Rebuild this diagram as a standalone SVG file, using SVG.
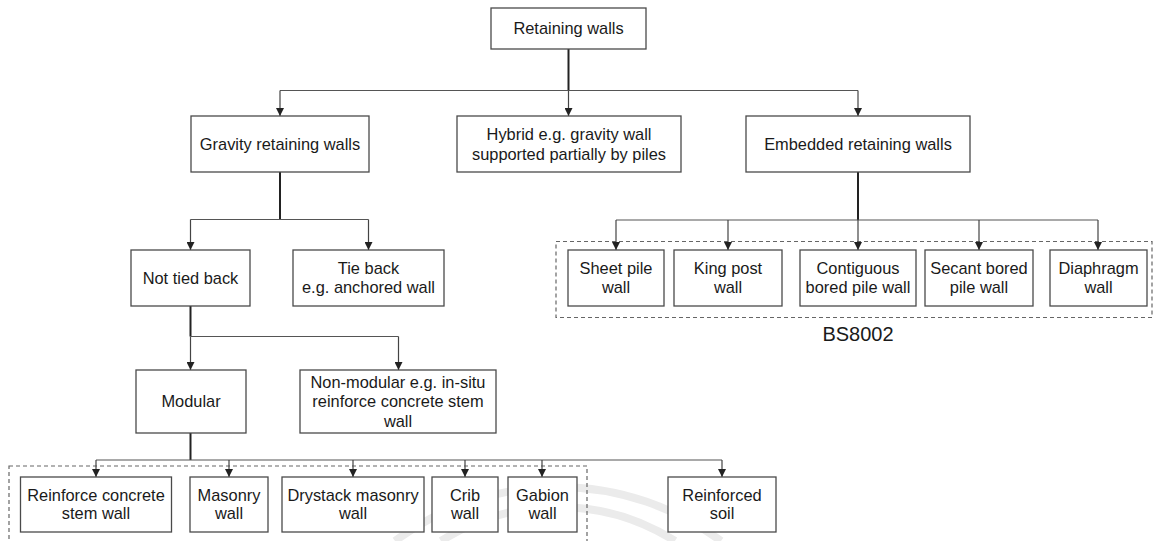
<svg xmlns="http://www.w3.org/2000/svg" width="1163" height="541" viewBox="0 0 1163 541">
<defs>
<marker id="arr" viewBox="0 0 10 10" refX="10" refY="5" markerWidth="8" markerHeight="8" markerUnits="userSpaceOnUse" orient="auto">
<path d="M0,0 L10,5 L0,10 z" fill="#222"/>
</marker>
<style>
.box{fill:#fff;stroke:#4a4a4a;stroke-width:1.3}
.grp{fill:none;stroke:#666;stroke-width:1.2;stroke-dasharray:4 3}
.t{font-family:"Liberation Sans",Arial,sans-serif;font-size:16.4px;fill:#1a1a1a;text-anchor:middle}
.big{font-size:20px}
.trunk{fill:none;stroke:#222;stroke-width:2}
.hl{fill:none;stroke:#555;stroke-width:1.2}
.br{fill:none;stroke:#444;stroke-width:1.2;marker-end:url(#arr)}
.wm{fill:none;stroke:#ebebeb;stroke-width:8}
</style>
</defs>
<rect width="1163" height="541" fill="#fff"/>
<g id="watermark">
<path class="wm" d="M395 541 A273 273 0 0 1 721 541"/>
<path class="wm" d="M441 541 A218 218 0 0 1 675 541"/>
</g>
<g id="groups">
<rect class="grp" x="556" y="241.5" width="596" height="76"/>
<rect class="grp" x="9" y="466" width="578" height="85"/>
<text class="t big" x="858" y="341">BS8002</text>
</g>
<g id="connectors">
<path class="trunk" d="M568.5 49 V90.5"/>
<path class="hl" d="M280 90.5 H858"/>
<path class="br" d="M280 90.5 V116"/>
<path class="br" d="M568.5 90.5 V116"/>
<path class="br" d="M858 90.5 V116"/>
<path class="trunk" d="M280 172 V219.5"/>
<path class="hl" d="M190.5 219.5 H368.5"/>
<path class="br" d="M190.5 219.5 V250"/>
<path class="br" d="M368.5 219.5 V250"/>
<path class="trunk" d="M190.5 306 V336.5"/>
<path class="hl" d="M190.5 336.5 H398.5"/>
<path class="br" d="M190.5 336.5 V370"/>
<path class="br" d="M398.5 336.5 V370"/>
<path class="trunk" d="M190.5 433 V460"/>
<path class="hl" d="M96 460 H722"/>
<path class="br" d="M96 460 V477"/>
<path class="br" d="M229 460 V477"/>
<path class="br" d="M353 460 V477"/>
<path class="br" d="M465 460 V477"/>
<path class="br" d="M542 460 V477"/>
<path class="br" d="M722 460 V477"/>
<path class="trunk" d="M858 172 V220"/>
<path class="hl" d="M616 220 H1098"/>
<path class="br" d="M616 220 V250"/>
<path class="br" d="M728 220 V250"/>
<path class="br" d="M858 220 V250"/>
<path class="br" d="M979 220 V250"/>
<path class="br" d="M1098 220 V250"/>
</g>
<g id="n-root"><rect class="box" x="491" y="8" width="155" height="41"/><text class="t" x="568.5" y="34.3">Retaining walls</text></g>
<g id="n-gravity"><rect class="box" x="191" y="116" width="178" height="56"/><text class="t" x="280" y="149.8">Gravity retaining walls</text></g>
<g id="n-hybrid"><rect class="box" x="457" y="116" width="224" height="56"/><text class="t" x="569" y="139.5">Hybrid e.g. gravity wall</text><text class="t" x="569" y="159.5">supported partially by piles</text></g>
<g id="n-embedded"><rect class="box" x="746" y="116" width="224" height="56"/><text class="t" x="858" y="149.8">Embedded retaining walls</text></g>
<g id="n-nottied"><rect class="box" x="131" y="250" width="119" height="56"/><text class="t" x="190.5" y="283.8">Not tied back</text></g>
<g id="n-tieback"><rect class="box" x="293" y="250" width="151" height="56"/><text class="t" x="368.5" y="273.5">Tie back</text><text class="t" x="368.5" y="293.3">e.g. anchored wall</text></g>
<g id="n-modular"><rect class="box" x="136" y="370" width="110" height="63"/><text class="t" x="191" y="407.3">Modular</text></g>
<g id="n-nonmodular"><rect class="box" x="300" y="370" width="196" height="63"/><text class="t" x="398" y="387.5">Non-modular e.g. in-situ</text><text class="t" x="398" y="407">reinforce concrete stem</text><text class="t" x="398" y="426.5">wall</text></g>
<g id="n-sheet"><rect class="box" x="568" y="250" width="96" height="56"/><text class="t" x="616" y="273.5">Sheet pile</text><text class="t" x="616" y="293.3">wall</text></g>
<g id="n-king"><rect class="box" x="674" y="250" width="108" height="56"/><text class="t" x="728" y="273.5">King post</text><text class="t" x="728" y="293.3">wall</text></g>
<g id="n-contig"><rect class="box" x="800" y="250" width="116" height="56"/><text class="t" x="858" y="273.5">Contiguous</text><text class="t" x="858" y="293.3">bored pile wall</text></g>
<g id="n-secant"><rect class="box" x="925" y="250" width="108" height="56"/><text class="t" x="979" y="273.5">Secant bored</text><text class="t" x="979" y="293.3">pile wall</text></g>
<g id="n-diaphragm"><rect class="box" x="1050" y="250" width="97" height="56"/><text class="t" x="1098.5" y="273.5">Diaphragm</text><text class="t" x="1098.5" y="293.3">wall</text></g>
<g id="n-rcstem"><rect class="box" x="20.5" y="477" width="151" height="55"/><text class="t" x="96" y="500.8">Reinforce concrete</text><text class="t" x="96" y="519.3">stem wall</text></g>
<g id="n-masonry"><rect class="box" x="190" y="477" width="78" height="55"/><text class="t" x="229" y="500.8">Masonry</text><text class="t" x="229" y="519.3">wall</text></g>
<g id="n-drystack"><rect class="box" x="282" y="477" width="142" height="55"/><text class="t" x="353" y="500.8">Drystack masonry</text><text class="t" x="353" y="519.3">wall</text></g>
<g id="n-crib"><rect class="box" x="432" y="477" width="66" height="55"/><text class="t" x="465" y="500.8">Crib</text><text class="t" x="465" y="519.3">wall</text></g>
<g id="n-gabion"><rect class="box" x="508" y="477" width="69" height="55"/><text class="t" x="542.5" y="500.8">Gabion</text><text class="t" x="542.5" y="519.3">wall</text></g>
<g id="n-rsoil"><rect class="box" x="668" y="477" width="108" height="55"/><text class="t" x="722" y="500.8">Reinforced</text><text class="t" x="722" y="519.3">soil</text></g>
</svg>
